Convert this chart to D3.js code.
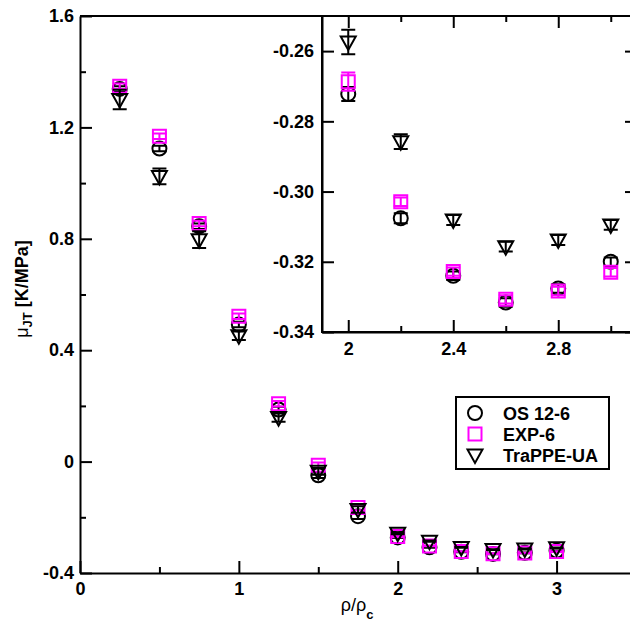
<!DOCTYPE html>
<html>
<head>
<meta charset="utf-8">
<script src="https://cdn.jsdelivr.net/npm/d3@7"></script>
<style>
  body { margin: 0; background: #fff; }
  svg { display: block; font-family: "Liberation Sans", Arial, Helvetica, sans-serif; }
  .tick text { font-size: 18px; font-weight: bold; fill: #000; }
  .domain, .tick line { stroke: #000; stroke-width: 2; }
</style>
</head>
<body>
<svg width="630" height="622"></svg>
<script>
// rho / rho_c
const density = [0.25, 0.5, 0.75, 1.0, 1.25, 1.5, 1.75, 2.0, 2.2, 2.4, 2.6, 2.8, 3.0];

// mu_JT [K/MPa] with error bars
const os126 = [1.338, 1.124, 0.845, 0.492, 0.187, -0.049, -0.196, -0.2722, -0.3076, -0.3240, -0.3316, -0.3276, -0.3200];
const os126Err = [0.01, 0.01, 0.01, 0.01, 0.01, 0.01, 0.01, 0.0020, 0.0014, 0.0012, 0.0012, 0.0012, 0.0012];
const exp6 = [1.348, 1.168, 0.855, 0.522, 0.208, -0.013, -0.165, -0.2687, -0.3029, -0.3228, -0.3307, -0.3283, -0.3230];
const exp6Err = [0.01, 0.01, 0.01, 0.01, 0.01, 0.01, 0.01, 0.0026, 0.0012, 0.0012, 0.0012, 0.0012, 0.0012];
const trappe = [1.300, 1.024, 0.797, 0.452, 0.158, -0.035, -0.172, -0.2574, -0.2858, -0.3081, -0.3157, -0.3138, -0.3095];
const trappeErr = [0.035, 0.028, 0.030, 0.015, 0.015, 0.012, 0.012, 0.0035, 0.0021, 0.0014, 0.0014, 0.0014, 0.0014];

const seriesNames = ["OS 12-6", "EXP-6", "TraPPE-UA"];

// tick values
const mainXMajor = [0, 1, 2, 3];
const mainXMinor = [0.5, 1.5, 2.5, 3.5];
const mainYMajor = [-0.4, 0, 0.4, 0.8, 1.2, 1.6];
const mainYMinor = [-0.2, 0.2, 0.6, 1.0, 1.4];
const insetXMajor = [2.0, 2.4, 2.8];
const insetXMinor = [2.2, 2.6, 3.0];
const insetYMajor = [-0.34, -0.32, -0.30, -0.28, -0.26];

const series = [
  { name: seriesNames[0], values: os126, err: os126Err, color: "#000", shape: "circle" },
  { name: seriesNames[1], values: exp6, err: exp6Err, color: "#ff00ff", shape: "square" },
  { name: seriesNames[2], values: trappe, err: trappeErr, color: "#000", shape: "triangle" }
];

const svg = d3.select("svg");

// main frame
const x = d3.scaleLinear().domain([0, 3.5]).range([80, 636]);
const y = d3.scaleLinear().domain([-0.4, 1.6]).range([573, 16]);

// inset frame
const xi = d3.scaleLinear().domain([1.9, 3.1]).range([322, 637]);
const yi = d3.scaleLinear().domain([-0.34, -0.25]).range([332, 16]);

function markerPath(shape, cx, cy) {
  const p = d3.path();
  if (shape === "circle") {
    p.moveTo(cx + 7, cy);
    p.arc(cx, cy, 7, 0, 2 * Math.PI);
  } else if (shape === "square") {
    p.rect(cx - 6.5, cy - 6.5, 13, 13);
  } else {
    p.moveTo(cx - 7.5, cy - 5.5);
    p.lineTo(cx + 7.5, cy - 5.5);
    p.lineTo(cx, cy + 8);
    p.closePath();
  }
  return p.toString();
}

function drawPoints(g, xs, ys, minX) {
  series.forEach(s => {
    const pts = density.map((d, i) => ({ x: d, v: s.values[i], e: s.err[i] }))
      .filter(d => d.x >= minX);
    const sg = g.append("g")
      .attr("stroke", s.color)
      .attr("stroke-width", 2)
      .attr("fill", "none");

    // error bars
    sg.selectAll(".eb").data(pts).join("path")
      .attr("d", d => {
        const cx = xs(d.x), y0 = ys(d.v - d.e), y1 = ys(d.v + d.e);
        return `M${cx},${y0}V${y1}M${cx - 7},${y0}H${cx + 7}M${cx - 7},${y1}H${cx + 7}`;
      });

    sg.selectAll(".mk").data(pts).join("path")
      .attr("d", d => markerPath(s.shape, xs(d.x), ys(d.v)));
  });
}

// ---- main plot ----
const main = svg.append("g");

main.append("g")
  .attr("transform", "translate(0,573)")
  .call(d3.axisBottom(x).tickValues(mainXMinor).tickSize(-6).tickFormat(""))
  .call(g => g.select(".domain").remove());
main.append("g")
  .attr("transform", "translate(0,573)")
  .call(d3.axisBottom(x).tickValues(mainXMajor).tickSize(-12).tickSizeOuter(0).tickPadding(9).tickFormat(d3.format("d")));

main.append("g")
  .attr("transform", "translate(80,0)")
  .call(d3.axisLeft(y).tickValues(mainYMinor).tickSize(-6).tickFormat(""))
  .call(g => g.select(".domain").remove());
main.append("g")
  .attr("transform", "translate(80,0)")
  .call(d3.axisLeft(y).tickValues(mainYMajor).tickSize(-12).tickSizeOuter(0).tickPadding(6)
    .tickFormat(d => d === 0 ? "0" : d.toFixed(1)));

// top and right edges of the frame
main.append("path")
  .attr("d", `M${x(0)},${y(1.6)}H${x(3.5)}V${y(-0.4)}`)
  .attr("fill", "none")
  .attr("stroke", "#000")
  .attr("stroke-width", 2);

drawPoints(main, x, y, 0);

// axis titles
svg.append("text")
  .attr("transform", "translate(28,289) rotate(-90)")
  .attr("text-anchor", "middle")
  .attr("font-size", 18)
  .call(t => {
    t.append("tspan").text("μ");
    t.append("tspan").attr("font-size", 13).attr("font-weight", "bold").attr("dy", 4).text("JT");
    t.append("tspan").attr("font-weight", "bold").attr("dy", -4).text(" [K/MPa]");
  });

svg.append("text")
  .attr("x", 357)
  .attr("y", 611)
  .attr("text-anchor", "middle")
  .attr("font-size", 18)
  .call(t => {
    t.append("tspan").text("ρ/ρ");
    t.append("tspan").attr("font-size", 13).attr("font-weight", "bold").attr("dy", 8).text("c");
  });

// ---- inset ----
const inset = svg.append("g");

inset.append("rect")
  .attr("x", xi(1.9))
  .attr("y", yi(-0.25))
  .attr("width", xi(3.1) - xi(1.9))
  .attr("height", yi(-0.34) - yi(-0.25))
  .attr("fill", "#fff")
  .attr("stroke", "#000")
  .attr("stroke-width", 2);

inset.append("g")
  .attr("transform", "translate(0,332)")
  .call(d3.axisBottom(xi).tickValues(insetXMinor).tickSize(-6).tickFormat(""))
  .call(g => g.select(".domain").remove());
inset.append("g")
  .attr("transform", "translate(0,332)")
  .call(d3.axisBottom(xi).tickValues(insetXMajor).tickSize(-12).tickSizeOuter(0).tickPadding(10)
    .tickFormat(d => String(+d.toFixed(1))));

inset.append("g")
  .attr("transform", "translate(0,16)")
  .call(d3.axisTop(xi).tickValues(insetXMinor).tickSize(-6).tickFormat(""))
  .call(g => g.select(".domain").remove());
inset.append("g")
  .attr("transform", "translate(0,16)")
  .call(d3.axisTop(xi).tickValues(insetXMajor).tickSize(-12).tickFormat(""))
  .call(g => g.select(".domain").remove());

inset.append("g")
  .attr("transform", "translate(322,0)")
  .call(d3.axisLeft(yi).tickValues(insetYMajor).tickSize(-12).tickSizeOuter(0).tickPadding(8)
    .tickFormat(d => d.toFixed(2)));

inset.append("g")
  .attr("transform", "translate(637,0)")
  .call(d3.axisRight(yi).tickValues(insetYMajor).tickSize(-12).tickFormat(""))
  .call(g => g.select(".domain").remove());

drawPoints(inset, xi, yi, 1.9);

// ---- legend ----
const legend = svg.append("g");

legend.append("rect")
  .attr("x", 456)
  .attr("y", 397)
  .attr("width", 153)
  .attr("height", 72)
  .attr("fill", "#fff")
  .attr("stroke", "#000")
  .attr("stroke-width", 2);

const rowY = d3.scalePoint().domain(seriesNames).range([413, 455]);

series.forEach(s => {
  legend.append("path")
    .attr("d", markerPath(s.shape, 475, rowY(s.name)))
    .attr("fill", "none")
    .attr("stroke", s.color)
    .attr("stroke-width", 2);
  legend.append("text")
    .attr("x", 503)
    .attr("y", rowY(s.name) + 6.5)
    .attr("font-size", 18)
    .attr("font-weight", "bold")
    .text(s.name);
});
</script>
</body>
</html>
